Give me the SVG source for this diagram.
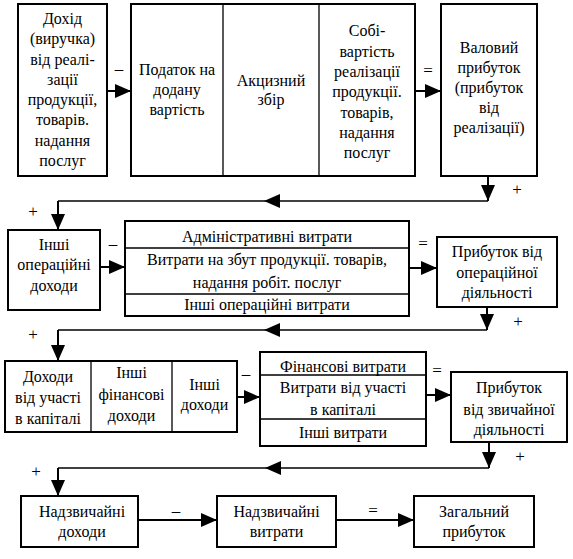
<svg xmlns="http://www.w3.org/2000/svg" width="573" height="559" viewBox="0 0 573 559" font-family="Liberation Serif, DejaVu Serif, serif">
<style>
text{font-family:Liberation Serif, DejaVu Serif, serif}
.t{font-size:16px;fill:#000;text-anchor:middle}
.s{font-size:17px;fill:#000;text-anchor:middle}
.b{fill:#fff;stroke:#000;stroke-width:2}
.d{stroke:#000;stroke-width:1.3;fill:none}
.c{stroke:#000;stroke-width:2;fill:none}
.r{stroke:#000;stroke-width:1.5;fill:none}
</style>
<defs>
<marker id="ah" markerUnits="userSpaceOnUse" markerWidth="16" markerHeight="16" refX="16" refY="8" orient="auto" viewBox="0 0 16 16">
<path d="M0,1 L16,8 L0,15 z" fill="#000"/>
</marker>
</defs>
<rect width="573" height="559" fill="#fff"/>

<g id="connectors">
<path class="c" d="M107,91 H131" marker-end="url(#ah)"/>
<path class="c" d="M415,91 H441" marker-end="url(#ah)"/>
<path class="c" d="M488,176 V201" marker-end="url(#ah)"/>
<path class="r" d="M488,201 H264" marker-end="url(#ah)"/>
<path class="r" d="M264,201 H58"/>
<path class="c" d="M58,201 V230" marker-end="url(#ah)"/>
<path class="c" d="M100,267 H125" marker-end="url(#ah)"/>
<path class="c" d="M409,268 H437" marker-end="url(#ah)"/>
<path class="c" d="M487,307 V330" marker-end="url(#ah)"/>
<path class="r" d="M487,330 H264" marker-end="url(#ah)"/>
<path class="r" d="M264,330 H58"/>
<path class="c" d="M58,330 V361" marker-end="url(#ah)"/>
<path class="c" d="M237,397 H260" marker-end="url(#ah)"/>
<path class="c" d="M426,395 H451" marker-end="url(#ah)"/>
<path class="c" d="M489,442 V468" marker-end="url(#ah)"/>
<path class="r" d="M489,468 H265" marker-end="url(#ah)"/>
<path class="r" d="M265,468 H58"/>
<path class="c" d="M58,468 V496" marker-end="url(#ah)"/>
<path class="c" d="M138,520 H217" marker-end="url(#ah)"/>
<path class="c" d="M336,520 H414" marker-end="url(#ah)"/>
<text class="s" x="119" y="74">–</text>
<text class="s" x="428" y="76">=</text>
<text class="s" x="517" y="195">+</text>
<text class="s" x="33" y="217">+</text>
<text class="s" x="113" y="249">–</text>
<text class="s" x="423" y="249">=</text>
<text class="s" x="518" y="327">+</text>
<text class="s" x="33" y="340">+</text>
<text class="s" x="246" y="379">–</text>
<text class="s" x="437" y="376">=</text>
<text class="s" x="520" y="462">+</text>
<text class="s" x="36" y="477">+</text>
<text class="s" x="176" y="516">–</text>
<text class="s" x="373" y="516">=</text>
</g>

<g id="revenue">
<rect class="b" x="18" y="4" width="89" height="172"/>
<text class="t" x="62.5" y="24">Дохід</text>
<text class="t" x="62.5" y="44">(виручка)</text>
<text class="t" x="62.5" y="65">від реалі-</text>
<text class="t" x="62.5" y="85">зації</text>
<text class="t" x="62.5" y="105">продукції,</text>
<text class="t" x="62.5" y="125">товарів.</text>
<text class="t" x="62.5" y="146">надання</text>
<text class="t" x="62.5" y="166">послуг</text>
</g>

<g id="deductions">
<rect class="b" x="131" y="4" width="284" height="172"/>
<path class="d" d="M223,4 V176 M319,4 V176"/>
<g id="vat">
<text class="t" x="177" y="75">Податок на</text>
<text class="t" x="177" y="95">додану</text>
<text class="t" x="177" y="115">вартість</text>
</g>
<g id="excise">
<text class="t" x="271" y="86">Акцизний</text>
<text class="t" x="271" y="105">збір</text>
</g>
<g id="cost">
<text class="t" x="367" y="36">Собі-</text>
<text class="t" x="367" y="57">вартість</text>
<text class="t" x="367" y="77">реалізації</text>
<text class="t" x="367" y="97">продукції.</text>
<text class="t" x="367" y="118">товарів,</text>
<text class="t" x="367" y="138">надання</text>
<text class="t" x="367" y="158">послуг</text>
</g>
</g>

<g id="gross-profit">
<rect class="b" x="441" y="4" width="96" height="172"/>
<text class="t" x="489" y="53">Валовий</text>
<text class="t" x="489" y="73">прибуток</text>
<text class="t" x="489" y="93">(прибуток</text>
<text class="t" x="489" y="113">від</text>
<text class="t" x="489" y="133">реалізації)</text>
</g>

<g id="other-op-income">
<rect class="b" x="8" y="230" width="92" height="80"/>
<text class="t" x="54" y="250">Інші</text>
<text class="t" x="54" y="270">операційні</text>
<text class="t" x="54" y="291">доходи</text>
</g>

<g id="op-expenses">
<rect class="b" x="125" y="221" width="284" height="95"/>
<path class="d" d="M125,248 H409 M125,294 H409"/>
<text class="t" x="267" y="242">Адміністративні витрати</text>
<text class="t" x="267" y="265">Витрати на збут продукції. товарів,</text>
<text class="t" x="267" y="288">надання робіт. послуг</text>
<text class="t" x="267" y="310">Інші операційні витрати</text>
</g>

<g id="op-profit">
<rect class="b" x="437" y="237" width="120" height="70"/>
<text class="t" x="497" y="257">Прибуток від</text>
<text class="t" x="497" y="278">операційної</text>
<text class="t" x="497" y="298">діяльності</text>
</g>

<g id="fin-income">
<rect class="b" x="5" y="361" width="232" height="71"/>
<path class="d" d="M91,361 V432 M172,361 V432"/>
<text class="t" x="48" y="382">Доходи</text>
<text class="t" x="48" y="403">від участі</text>
<text class="t" x="48" y="424">в капіталі</text>
<text class="t" x="131.5" y="378">Інші</text>
<text class="t" x="131.5" y="400">фінансові</text>
<text class="t" x="131.5" y="421">доходи</text>
<text class="t" x="204.5" y="390">Інші</text>
<text class="t" x="204.5" y="410">доходи</text>
</g>

<g id="fin-expenses">
<rect class="b" x="260" y="352" width="166" height="94"/>
<path class="d" d="M260,375 H426 M260,419 H426"/>
<text class="t" x="343" y="372">Фінансові витрати</text>
<text class="t" x="343" y="393">Витрати від участі</text>
<text class="t" x="343" y="415">в капіталі</text>
<text class="t" x="343" y="438">Інші витрати</text>
</g>

<g id="ordinary-profit">
<rect class="b" x="451" y="372" width="116" height="70"/>
<text class="t" x="509" y="393">Прибуток</text>
<text class="t" x="509" y="415">від звичайної</text>
<text class="t" x="509" y="435">діяльності</text>
</g>

<g id="extra-income">
<rect class="b" x="21" y="496" width="117" height="51"/>
<text class="t" x="82" y="517">Надзвичайні</text>
<text class="t" x="82" y="537">доходи</text>
</g>

<g id="extra-expenses">
<rect class="b" x="217" y="496" width="119" height="51"/>
<text class="t" x="276.5" y="517">Надзвичайні</text>
<text class="t" x="276.5" y="537">витрати</text>
</g>

<g id="total-profit">
<rect class="b" x="414" y="496" width="120" height="51"/>
<text class="t" x="474" y="517">Загальний</text>
<text class="t" x="474" y="537">прибуток</text>
</g>
</svg>
